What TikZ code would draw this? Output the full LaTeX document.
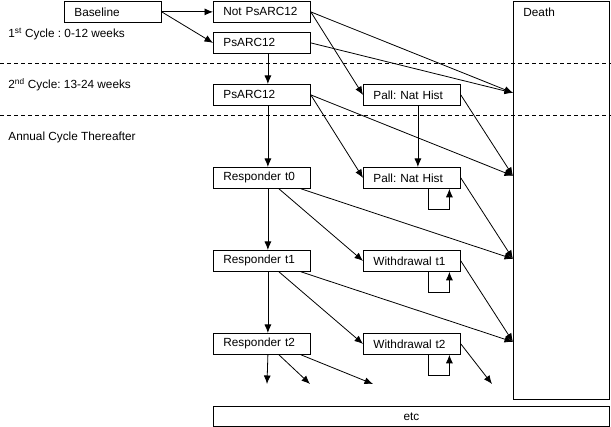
\documentclass[tikz,border=0pt]{standalone}
\usepackage{fontspec}
\setmainfont{Liberation Sans}
\usetikzlibrary{arrows.meta}
\frenchspacing

\tikzset{
	flowtip/.tip={Latex[length=8.5pt,width=7pt]},
	state/.style={draw, anchor=north west, text width=77pt, inner xsep=10pt,
		inner ysep=0pt, minimum height=21pt, align=left},
	cyclelbl/.style={anchor=west, inner sep=0pt},
	divider/.style={dash pattern=on 4pt off 3pt}
}

\begin{document}
\begin{tikzpicture}[>=flowtip, x=1pt, y=-1pt, line width=0.8pt,
		font=\fontsize{11.8}{13}\selectfont]
				\useasboundingbox (0,0) rectangle (611,427);

				% cycles
				\draw[divider] (0,63) -- (611,63);
				\draw[divider] (0,115) -- (611,115);
				\node[cyclelbl] (cyc1) at (8,34) {1\textsuperscript{st} Cycle : 0-12 weeks};
				\node[cyclelbl] (cyc2) at (8,85) {2\textsuperscript{nd} Cycle: 13-24 weeks};
				\node[cyclelbl] (cyc3) at (8,137) {Annual Cycle Thereafter};

				\node[state] (base) at (64,1) {Baseline};
				\node[state] (notps) at (213,1) {Not PsARC12};
				\node[state] (ps1) at (213,32) {PsARC12};
				\node[state] (ps2) at (213,84) {PsARC12};
				\node[state] (pall1) at (363,84) {Pall: Nat Hist};
				\node[state] (resp0) at (213,167) {Responder t0};
				\node[state] (pall2) at (363,167) {Pall: Nat Hist};
				\node[state] (resp1) at (213,250) {Responder t1};
				\node[state] (wd1) at (363,250) {Withdrawal t1};
				\node[state] (resp2) at (213,333) {Responder t2};
				\node[state] (wd2) at (363,333) {Withdrawal t2};

				\node[draw, anchor=north west, minimum width=96pt, minimum height=398pt,
					label={[anchor=north west, inner sep=0pt, xshift=10pt, yshift=-7pt]north west:Death}]
					(death) at (513,1) {};
				\node[draw, anchor=north west, minimum width=396pt, minimum height=20pt,
					inner sep=0pt] (etc) at (213,406) {etc};

				\coordinate (d1) at ([yshift=2pt]death.west |- pall1.west);
				\coordinate (d2) at ([yshift=2pt]death.west |- pall2.west);
				\coordinate (d3) at ([yshift=2pt]death.west |- wd1.west);
				\coordinate (d4) at ([yshift=2pt]death.west |- wd2.west);
				\coordinate (e1) at (267,384);
				\coordinate (e2) at (310,384);
				\coordinate (e3) at (373,384);
				\coordinate (e4) at (492,384);

				\draw[->] (base.east) -- (notps.west);
				\draw[->] (base.east) -- (ps1.west);
				\draw[->] (notps.east) -- (d1);
				\draw[->] (notps.east) -- (pall1.west);
				\draw[->] (ps1.east) -- (d1);
				\draw[->] ([xshift=6pt]ps1.south) -- ([xshift=6pt]ps2.north);

				\draw[->] (ps2.east) -- (pall2.west);
				\draw[->] (ps2.east) -- (d2);
				\draw[->] ([xshift=6pt]ps2.south) -- ([xshift=6pt]resp0.north);
				\draw[->] ([xshift=6pt]pall1.south) -- ([xshift=6pt]pall2.north);
				\draw[->] (pall1.east) -- (d2);

				\draw[->] ([xshift=16.5pt]pall2.south) -- ++(0,21) -| ([xshift=37.5pt]pall2.south);
				\draw[->] (pall2.east) -- (d3);
				\draw[->] ([xshift=6pt]resp0.south) -- ([xshift=6pt]resp1.north);
				\draw[->] ([xshift=17pt]resp0.south) -- (wd1.west);
				\draw[->] ([xshift=39pt]resp0.south) -- (d3);

				\draw[->] ([xshift=16.5pt]wd1.south) -- ++(0,21) -| ([xshift=37.5pt]wd1.south);
				\draw[->] (wd1.east) -- (d4);
				\draw[->] ([xshift=6pt]resp1.south) -- ([xshift=6pt]resp2.north);
				\draw[->] ([xshift=17pt]resp1.south) -- (wd2.west);
				\draw[->] ([xshift=39pt]resp1.south) -- (d4);

				\draw[->] ([xshift=16.5pt]wd2.south) -- ++(0,21) -| ([xshift=37.5pt]wd2.south);
				\draw[->] (wd2.east) -- (e4);
				\draw[->] ([xshift=6pt]resp2.south) -- (e1);
				\draw[->] ([xshift=17pt]resp2.south) -- (e2);
				\draw[->] ([xshift=39pt]resp2.south) -- (e3);
			\end{tikzpicture}
\end{document}
